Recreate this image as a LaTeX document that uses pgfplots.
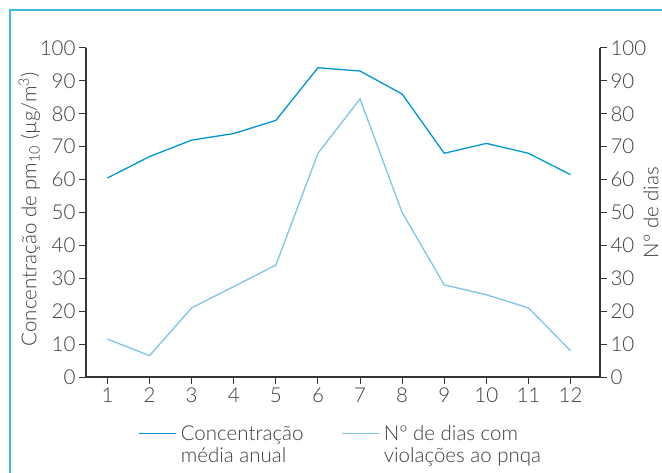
\documentclass[border=0pt]{standalone}
\usepackage{fontspec}
\setmainfont{Lato Light}
\usepackage{pgfplots}
\pgfplotsset{compat=1.18}
\definecolor{darkline}{RGB}{0,150,210}
\definecolor{lightline}{RGB}{125,196,232}
\definecolor{framec}{RGB}{60,184,230}
\definecolor{txt}{RGB}{60,60,60}
\newcommand{\fs}{\fontsize{20.5bp}{22bp}\selectfont}
\begin{document}
\begin{tikzpicture}
\useasboundingbox (-86bp,-96bp) rectangle (576bp,377bp);
\draw[framec, line width=1.6bp] (-76bp,-100bp) -- (-76bp,367bp) -- (580bp,367bp);
\pgfplotsset{
  base/.style={
    at={(0,0)}, anchor=south west,
    scale only axis, width=514bp, height=329bp,
    xmin=0.49, xmax=12.7, ymin=0, ymax=100,
    ytick={0,10,...,100},
    tick align=outside, major tick length=7bp,
    axis line style={-, draw=txt!90!black, line width=1.3bp},
    every tick/.style={draw=txt!90!black, line width=1bp},
    tick label style={font=\fs, text=txt},
    label style={font=\fs, text=txt},
    /pgf/number format/assume math mode=true,
    clip=false,
  }
}
\begin{axis}[base,
  axis x line*=bottom, axis y line*=left,
  xtick={1,...,12},
  ylabel={Concentração de pm\textsubscript{10} (µg/m\textsuperscript{3})},
  ylabel style={at={(axis description cs:-0.11,0.51)}, anchor=center, rotate=0},
]
\addplot[darkline, line width=1.3bp] coordinates {
(1,60.5) (2,67) (3,72) (4,74) (5,78) (6,94) (7,93) (8,86) (9,68) (10,71) (11,68) (12,61.5)};
\end{axis}
\begin{axis}[base,
  axis x line=none, axis y line*=right,
  ylabel={Nº de dias},
  ylabel style={at={(axis description cs:1.099,0.50)}, anchor=center},
  legend columns=2,
  legend style={at={(axis description cs:0.096,-0.134)}, anchor=north west, draw=none, fill=none,
    font=\fs, text=txt, cells={align=left, anchor=west},
    /tikz/every even column/.append style={column sep=36bp}},
  legend image code/.code={\draw[#1] (0bp,11bp) -- (37bp,11bp); \path (39bp,0bp);},
]
\addlegendimage{darkline, line width=1.3bp}
\addlegendentry{Concentração\\média anual}
\addplot[lightline, line width=1.3bp] coordinates {
(1,11.5) (2,6.5) (3,21) (4,27.5) (5,34) (6,68) (7,84.5) (8,50) (9,28) (10,25) (11,21) (12,8)};
\addlegendentry{Nº de dias com\\violações ao pnqa}
\end{axis}
\end{tikzpicture}
\end{document}
